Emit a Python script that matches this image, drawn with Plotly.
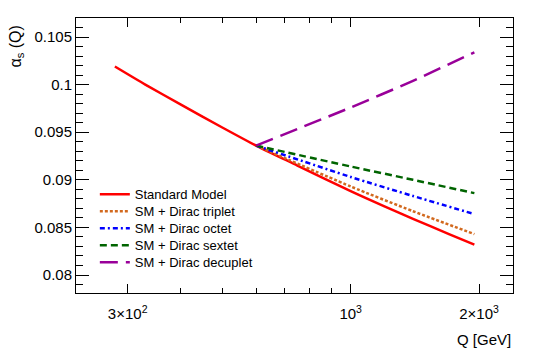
import plotly.graph_objects as go

# Data: {{{
q_sm = [280, 330, 400, 500, 600, 750, 1000, 1200, 1400, 1700, 1950]
alpha_sm = [0.1019, 0.1000, 0.0979, 0.0955, 0.0936, 0.0915, 0.0888, 0.0872, 0.0859, 0.0843, 0.0832]

q_bsm = [600, 1000, 1400, 1950]
alpha_triplet = [0.0936, 0.0893, 0.0867, 0.0843]
alpha_octet = [0.0936, 0.0903, 0.0883, 0.0864]
alpha_sextet = [0.0936, 0.0914, 0.0900, 0.0886]
alpha_decuplet = [0.0936, 0.0976, 0.1004, 0.1034]

x_tickvals = [300, 1000, 2000]
x_ticktext = ['3×10<sup>2</sup>', '10<sup>3</sup>', '2×10<sup>3</sup>']
x_minorvals = [300, 400, 500, 600, 700, 800, 900, 1000, 2000]
y_tickvals = [0.08, 0.085, 0.09, 0.095, 0.1, 0.105]
y_ticktext = ['0.08', '0.085', '0.09', '0.095', '0.1', '0.105']
#}}}

fig = go.Figure()
# Curves (one legend box per curve so rows can sit closer than plotly's minimum): {{{
series = [
    ('Standard Model', q_sm, alpha_sm, '#ff0000', 'solid'),
    ('SM + Dirac triplet', q_bsm, alpha_triplet, '#d2691e', '3px,2px'),
    ('SM + Dirac octet', q_bsm, alpha_octet, '#0000ff', '5px,3px,2px,3px'),
    ('SM + Dirac sextet', q_bsm, alpha_sextet, '#006400', '7px,4px'),
    ('SM + Dirac decuplet', q_bsm, alpha_decuplet, '#990099', '18px,8px'),
]
legend_names = ['legend', 'legend2', 'legend3', 'legend4', 'legend5']
legend_tops = [0.4131, 0.3513, 0.2895, 0.2276, 0.1658]
for (name, xs, ys, color, dash), leg in zip(series, legend_names):
    fig.add_scatter(
        x=xs, y=ys, mode='lines', name=name, legend=leg,
        line=dict(color=color, width=2.5, dash=dash, shape='spline', smoothing=0.6),
    )
#}}}
# Layout: {{{
# The page body has an 8px margin, so the figure is 8px smaller than the window.
axis_common = dict(
    showline=True, linecolor='black', linewidth=1, mirror='allticks',
    ticks='inside', tickcolor='black', showgrid=False, zeroline=False,
    automargin=False,
    tickfont=dict(family='Liberation Sans, Arial', size=15, color='black'),
)
fig.update_layout(
    width=532, height=342,
    margin=dict(l=68, r=27, t=10, b=57, autoexpand=False),
    paper_bgcolor='white', plot_bgcolor='white',
    font=dict(family='Liberation Sans, Arial', color='black'),
    xaxis=dict(
        type='log', range=[2.356, 3.3806],
        tickmode='array', tickvals=x_tickvals, ticktext=x_ticktext,
        ticklen=9, ticklabelstandoff=7,
        minor=dict(tickmode='array', tickvals=x_minorvals, ticklen=5, ticks='inside', tickcolor='black'),
        **axis_common,
    ),
    yaxis=dict(
        range=[0.07811, 0.1070],
        tickmode='array', tickvals=y_tickvals, ticktext=y_ticktext,
        ticklen=13,
        minor=dict(dtick=0.001, ticklen=7, ticks='inside', tickcolor='black'),
        **axis_common,
    ),
    showlegend=True,
)
for leg, top in zip(legend_names, legend_tops):
    fig.update_layout({leg: dict(
        x=0.0431, y=top, xanchor='left', yanchor='top',
        bgcolor='rgba(0,0,0,0)', borderwidth=0,
        font=dict(family='Liberation Sans, Arial', size=13, color='black'),
    )})
fig.add_annotation(
    text='α<sub>s</sub> (Q)', textangle=-90,
    xref='paper', yref='paper', x=0, y=1,
    xanchor='right', yanchor='top', xshift=-49, yshift=-6,
    showarrow=False, font=dict(size=16, family='Liberation Sans, Arial'),
)
fig.add_annotation(
    text='Q [GeV]',
    xref='paper', yref='paper', x=1, y=0,
    xanchor='right', yanchor='top', yshift=-36,
    showarrow=False, font=dict(size=15, family='Liberation Sans, Arial'),
)
#}}}
fig.write_html('out.html')
